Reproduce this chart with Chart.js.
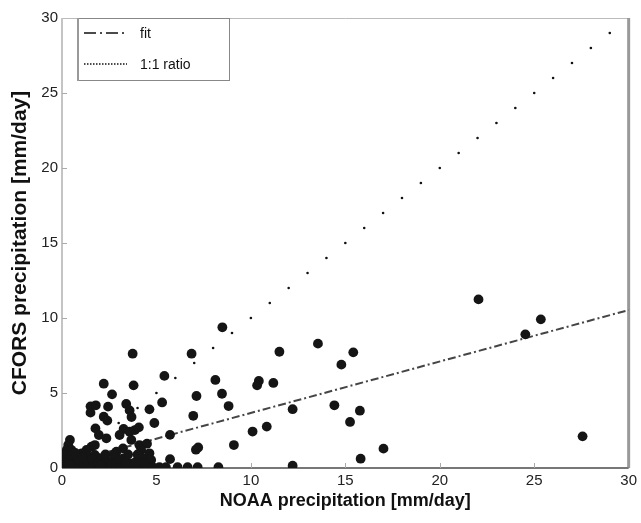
<!DOCTYPE html>
<html>
<head>
<meta charset="utf-8">
<script src="https://cdn.jsdelivr.net/npm/chart.js@4.4.0/dist/chart.umd.min.js"></script>
<style>
  html, body { margin: 0; padding: 0; background: #fff; }
  #wrap { width: 641px; height: 523px; }
</style>
</head>
<body>
<div id="wrap"><canvas id="myChart" width="641" height="523"></canvas></div>
<script>
// NOAA (x) vs CFORS (y) daily precipitation, mm/day
var noaaX = [
  8.49, 6.86, 3.74, 11.51, 13.55, 15.42, 14.79, 5.42, 8.12, 10.42, 10.33, 11.19,
  8.47, 7.12, 5.3, 8.82, 12.21, 6.95, 5.72, 10.84, 10.09, 9.1, 7.21, 7.09, 5.72,
  14.42, 15.77, 15.25, 17.02, 15.81, 22.05, 25.35, 24.53, 27.56, 12.21,
  2.21, 3.79, 2.65, 1.51, 1.79, 2.44, 3.4, 4.63, 1.51, 3.58, 3.68, 2.21, 2.4, 4.89,
  1.77, 1.95, 2.35, 3.26, 3.86, 4.07, 3.05, 3.58, 3.67, 4.1, 4.5, 3.23, 2.88,
  4.19, 4.63, 3.23, 4.28, 4.72, 2.7, 3.05,
  0.42, 0.33, 0.25, 0.5, 1.56, 1.74, 1.3, 1.04, 0.16, 0.68, 1.39, 1.74, 2.09, 2.44,
  0.0, 0.25, 0.6, 0.95, 1.3, 1.65, 2.0, 2.35, 2.7, 3.05, 3.4, 3.75, 4.1, 4.46,
  4.81, 5.16, 5.5, 6.12, 6.65, 7.18, 8.28,
  0.1, 0.8, 1.5, 2.2, 3.6, 4.3,
  0.05, 0.3, 0.55, 0.9, 1.15, 1.6, 1.9, 2.6, 2.9, 3.4, 3.9, 4.0, 0.7, 1.1,
  2.3, 2.75, 3.5, 4.35, 0.4, 2.05
];
var cforsY = [
  9.38, 7.62, 7.62, 7.75, 8.29, 7.71, 6.89, 6.14, 5.87, 5.8, 5.51, 5.67,
  4.95, 4.8, 4.37, 4.13, 3.92, 3.48, 2.21, 2.76, 2.43, 1.53, 1.37, 1.22, 0.59,
  4.18, 3.82, 3.07, 1.29, 0.62, 11.24, 9.91, 8.91, 2.11, 0.15,
  5.62, 5.51, 4.91, 4.11, 4.18, 4.09, 4.27, 3.91, 3.69, 3.84, 3.4, 3.42, 3.16, 3.0,
  2.64, 2.2, 1.98, 2.6, 2.53, 2.71, 2.2, 2.42, 1.87, 1.53, 1.62, 1.31, 1.09,
  1.2, 0.98, 0.64, 0.64, 0.53, 0.42, 0.31,
  1.87, 1.53, 1.2, 1.2, 1.42, 1.53, 1.2, 0.98, 0.64, 0.64, 0.76, 0.87, 0.64, 0.42,
  0.05, 0.05, 0.05, 0.05, 0.05, 0.05, 0.05, 0.05, 0.05, 0.05, 0.05, 0.05, 0.05, 0.05,
  0.05, 0.05, 0.05, 0.05, 0.05, 0.05, 0.05,
  0.3, 0.3, 0.3, 0.3, 0.3, 0.3,
  0.9, 0.4, 0.9, 0.5, 0.35, 0.55, 0.3, 0.2, 0.6, 0.35, 0.4, 0.9, 1.0, 0.7,
  0.9, 0.9, 0.9, 0.3, 0.2, 0.15
];

// regression line end points
var fitX = [0, 30];
var fitY = [0.24, 10.53];

// 1:1 reference, drawn as sparse dots
var ratioX = [1, 2, 3, 4, 5, 6, 7, 8, 9, 10, 11, 12, 13, 14, 15, 16, 17, 18, 19, 20, 21, 22, 23, 24, 25, 26, 27, 28, 29];

var axisTicks = [0, 5, 10, 15, 20, 25, 30];

var scatterData = [];
for (var i = 0; i < noaaX.length; i++) {
  scatterData.push({x: noaaX[i], y: cforsY[i]});
}
var fitData = [];
for (var i = 0; i < fitX.length; i++) {
  fitData.push({x: fitX[i], y: fitY[i]});
}
var ratioData = [];
for (var i = 0; i < ratioX.length; i++) {
  ratioData.push({x: ratioX[i], y: ratioX[i]});
}

// plot frame + inward ticks
var framePlugin = {
  id: 'frame',
  beforeDatasetsDraw: function (chart) {
    var ctx = chart.ctx;
    var a = chart.chartArea;
    var xs = chart.scales.x, ys = chart.scales.y;
    ctx.save();
    ctx.strokeStyle = '#bbb';
    ctx.lineWidth = 1;
    ctx.beginPath();
    ctx.moveTo(a.left, a.top + 0.5);
    ctx.lineTo(a.right, a.top + 0.5);
    ctx.stroke();
    ctx.strokeStyle = '#999';
    ctx.lineWidth = 3;
    ctx.beginPath();
    ctx.moveTo(a.right, a.top);
    ctx.lineTo(a.right, a.bottom);
    ctx.stroke();
    ctx.strokeStyle = '#c4c4c4';
    ctx.lineWidth = 2;
    ctx.beginPath();
    ctx.moveTo(a.left, a.top);
    ctx.lineTo(a.left, a.bottom);
    ctx.stroke();
    ctx.strokeStyle = '#777';
    ctx.lineWidth = 2;
    ctx.beginPath();
    ctx.moveTo(a.left, a.bottom);
    ctx.lineTo(a.right, a.bottom);
    ctx.stroke();
    ctx.strokeStyle = '#aaa';
    ctx.lineWidth = 1;
    for (var k = 1; k < axisTicks.length - 1; k++) {
      var px = Math.round(xs.getPixelForValue(axisTicks[k])) + 0.5;
      ctx.beginPath();
      ctx.moveTo(px, a.bottom);
      ctx.lineTo(px, a.bottom - 5);
      ctx.stroke();
      var py = Math.round(ys.getPixelForValue(axisTicks[k])) + 0.5;
      ctx.beginPath();
      ctx.moveTo(a.left, py);
      ctx.lineTo(a.left + 5, py);
      ctx.stroke();
    }
    ctx.restore();
  },
  afterDraw: function (chart) {
    var ctx = chart.ctx;
    ctx.save();
    // legend box
    ctx.fillStyle = '#fff';
    ctx.fillRect(78, 18, 151, 62);
    ctx.strokeStyle = '#888';
    ctx.lineWidth = 1;
    ctx.strokeRect(78.5, 18.5, 151, 62);
    ctx.strokeStyle = '#999';
    ctx.lineWidth = 2;
    ctx.beginPath();
    ctx.moveTo(78, 18);
    ctx.lineTo(78, 81);
    ctx.stroke();
    ctx.strokeStyle = '#111';
    ctx.lineWidth = 1.5;
    ctx.setLineDash([12, 4, 2, 4]);
    ctx.beginPath();
    ctx.moveTo(84, 33);
    ctx.lineTo(128, 33);
    ctx.stroke();
    ctx.setLineDash([1.5, 1.5]);
    ctx.beginPath();
    ctx.moveTo(84, 64);
    ctx.lineTo(127, 64);
    ctx.stroke();
    ctx.setLineDash([]);
    ctx.fillStyle = '#111';
    ctx.font = '14px "Liberation Sans", Arial, sans-serif';
    ctx.textBaseline = 'middle';
    ctx.fillText('fit', 140, 34);
    ctx.fillText('1:1 ratio', 140, 65);
    ctx.restore();
  }
};

var ctx = document.getElementById('myChart').getContext('2d');
var myChart = new Chart(ctx, {
  type: 'scatter',
  data: {
    datasets: [{
      label: 'fit',
      data: fitData,
      showLine: true,
      borderColor: '#454545',
      borderWidth: 2,
      borderDash: [8, 3, 2, 3],
      pointRadius: 0,
      order: 2
    },
    {
      label: '1:1 ratio',
      data: ratioData,
      showLine: false,
      pointRadius: 1.3,
      pointBackgroundColor: '#111',
      pointBorderWidth: 0,
      order: 3
    },
    {
      label: 'data',
      data: scatterData,
      pointRadius: 4.9,
      pointBackgroundColor: '#151515',
      pointBorderColor: '#151515',
      pointBorderWidth: 0,
      order: 1
    }]
  },
  options: {
    responsive: false,
    animation: false,
    layout: { padding: { left: 0, top: 18, right: 9, bottom: 0 } },
    plugins: {
      legend: { display: false },
      tooltip: { enabled: false }
    },
    scales: {
      x: {
        type: 'linear',
        min: 0,
        max: 30,
        afterFit: function (s) { s.height = 55; },
        afterBuildTicks: function (s) { s.ticks = axisTicks.map(function (v) { return {value: v}; }); },
        grid: { display: false, drawTicks: false },
        border: { display: false },
        ticks: {
          padding: 4,
          color: '#222',
          font: { family: '"Liberation Sans", Arial, sans-serif', size: 15 }
        },
        title: {
          display: true,
          text: 'NOAA precipitation [mm/day]',
          color: '#111',
          padding: { top: 0, bottom: 11 },
          font: { family: '"Liberation Sans", Arial, sans-serif', size: 18, weight: 'bold' }
        }
      },
      y: {
        type: 'linear',
        min: 0,
        max: 30,
        afterFit: function (s) { s.width = 62; },
        afterBuildTicks: function (s) { s.ticks = axisTicks.map(function (v) { return {value: v}; }); },
        grid: { display: false, drawTicks: false },
        border: { display: false },
        ticks: {
          padding: 4,
          color: '#222',
          font: { family: '"Liberation Sans", Arial, sans-serif', size: 15 }
        },
        title: {
          display: true,
          text: 'CFORS precipitation [mm/day]',
          color: '#111',
          padding: { top: 8, bottom: 0 },
          font: { family: '"Liberation Sans", Arial, sans-serif', size: 21, weight: 'bold' }
        }
      }
    }
  },
  plugins: [framePlugin]
});
</script>
</body>
</html>
